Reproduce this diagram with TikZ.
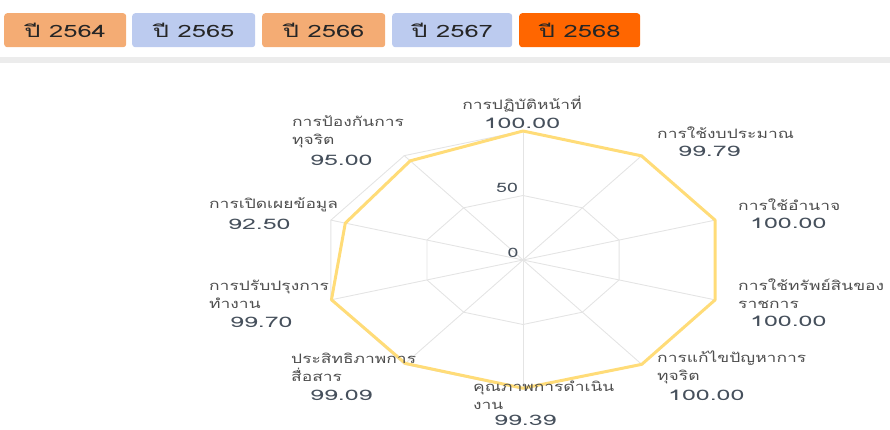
\documentclass[tikz,border=0pt]{standalone}
\usepackage{fontspec}
\usepackage{xcolor}
\newfontfamily\thaifont[Script=Thai,FakeStretch=1.5]{Loma}
\newfontfamily\thailabel[Script=Thai,FakeStretch=1.34]{Loma}
\newfontfamily\thaivalue[Script=Thai,FakeStretch=1.72]{Loma}
\definecolor{btnorange}{HTML}{F4AC74}
\definecolor{btnblue}{HTML}{BCCBEF}
\definecolor{btnactive}{HTML}{FF6600}
\definecolor{bargrey}{HTML}{ECECEC}
\definecolor{gridgrey}{HTML}{E4E4E4}
\definecolor{radaryellow}{HTML}{FFDC78}
\definecolor{labelgrey}{HTML}{4E4E4E}
\definecolor{valuegrey}{HTML}{46505C}

\begin{document}
\begin{tikzpicture}[line cap=round,line join=round,x=1pt,y=-1pt,
    yearbtn/.style={rounded corners=3pt,anchor=north west,minimum height=34pt,inner sep=0pt,font=\thaifont\fontsize{17}{17}\selectfont,text=black!85},
    gridline/.style={draw=gridgrey,line width=0.9pt},
    dataline/.style={draw=radaryellow,line width=3pt},
    axislabel/.style={font=\thailabel\fontsize{13}{18}\selectfont,text=labelgrey,align=left,inner sep=0pt,anchor=west},
    valuelabel/.style={font=\thaivalue\fontsize{14.5}{18}\selectfont,text=valuegrey,inner sep=0pt,anchor=west}]
    \useasboundingbox (0,0) rectangle (890,430);
    % year tabs
    \node [yearbtn,fill=btnorange,minimum width=122pt] (y2564) at (4,13) {ปี 2564};
    \node [yearbtn,fill=btnblue,minimum width=123pt] (y2565) at (132,13) {ปี 2565};
    \node [yearbtn,fill=btnorange,minimum width=123pt] (y2566) at (262,13) {ปี 2566};
    \node [yearbtn,fill=btnblue,minimum width=120pt] (y2567) at (392,13) {ปี 2567};
    \node [yearbtn,fill=btnactive,minimum width=121pt] (y2568) at (519,13) {ปี 2568};
    \fill [bargrey] (0,57) rectangle (890,63);
    % radar grid
    \coordinate (c) at (523,260);
    \foreach \i in {1,...,10}{
        \pgfmathsetmacro\ang{90-36*(\i-1)}
        \coordinate (o\i) at ({523+202*cos(\ang)},{260-129*sin(\ang)});
        \coordinate (m\i) at ({523+101*cos(\ang)},{260-64.5*sin(\ang)});
    }
    \draw [gridline] (o1) \foreach \i in {2,...,10}{-- (o\i)} -- cycle;
    \draw [gridline] (m1) \foreach \i in {2,...,10}{-- (m\i)} -- cycle;
    \foreach \i in {1,...,10} \draw [gridline] (c) -- (o\i);
    \node [valuelabel,anchor=center,font=\thaifont\fontsize{13}{13}\selectfont] (tick0) at (513,253) {0};
    \node [valuelabel,anchor=center,font=\thaifont\fontsize{13}{13}\selectfont] (tick50) at (507,188) {50};
    % scores
    \foreach \v [count=\i] in {100,99.79,100,100,100,99.39,99.09,99.70,92.50,95.00}{
        \pgfmathsetmacro\ang{90-36*(\i-1)}
        \coordinate (d\i) at ({523+2.02*\v*cos(\ang)},{260-1.29*\v*sin(\ang)});
    }
    \draw [dataline] (d1) \foreach \i in {2,...,10}{-- (d\i)} -- cycle;
    % labels
    \node [axislabel,anchor=center] (l1) at (522,104) {การปฏิบัติหน้าที่};
    \node [valuelabel,anchor=center] (s1) at (522,123) {100.00};
    \node [axislabel] (l2) at (657,133) {การใช้งบประมาณ};
    \node [valuelabel] (s2) at (678,151) {99.79};
    \node [axislabel] (l3) at (738,205) {การใช้อำนาจ};
    \node [valuelabel] (s3) at (750,223) {100.00};
    \node [axislabel] (l4) at (738,294) {การใช้ทรัพย์สินของ\\ราชการ};
    \node [valuelabel] (s4) at (750,321) {100.00};
    \node [axislabel] (l5) at (657,367) {การแก้ไขปัญหาการ\\ทุจริต};
    \node [valuelabel] (s5) at (668,395) {100.00};
    \node [axislabel] (l6) at (473,395) {คุณภาพการดำเนิน\\งาน};
    \node [valuelabel] (s6) at (494,420) {99.39};
    \node [axislabel] (l7) at (291,367) {ประสิทธิภาพการ\\สื่อสาร};
    \node [valuelabel] (s7) at (310,395) {99.09};
    \node [axislabel] (l8) at (209,294) {การปรับปรุงการ\\ทำงาน};
    \node [valuelabel] (s8) at (230,322) {99.70};
    \node [axislabel] (l9) at (209,205) {การเปิดเผยข้อมูล};
    \node [valuelabel] (s9) at (228,224) {92.50};
    \node [axislabel] (l10) at (292,132) {การป้องกันการ\\ทุจริต};
    \node [valuelabel] (s10) at (310,160) {95.00};
\end{tikzpicture}
\end{document}
